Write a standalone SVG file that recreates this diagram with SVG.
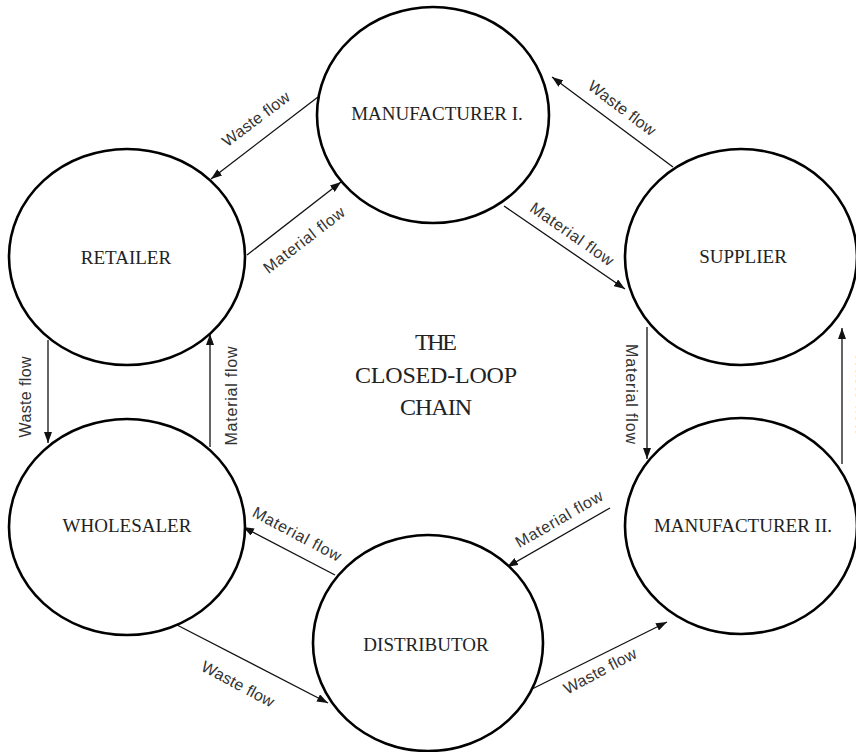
<svg xmlns="http://www.w3.org/2000/svg" width="856" height="752" viewBox="0 0 856 752">
<defs>
<marker id="arr" markerUnits="userSpaceOnUse" markerWidth="11" markerHeight="8" refX="11" refY="4" orient="auto">
<path d="M0,0 L11,4 L0,8 z" fill="#111"/>
</marker>
<style>
.node{fill:#fff;stroke:#000;stroke-width:2.6}
.nl{font-family:"Liberation Serif","DejaVu Serif",serif;font-size:19px;fill:#222;text-anchor:middle}
.title{font-family:"Liberation Serif","DejaVu Serif",serif;font-size:24px;fill:#222;text-anchor:middle}
.cl{font-family:"Liberation Sans",Arial,sans-serif;font-size:16px;fill:#333;text-anchor:middle}
.edge{stroke:#111;stroke-width:1.3;fill:none;marker-end:url(#arr)}
</style>
</defs>
<rect width="856" height="752" fill="#fff"/>

<g id="connectors">
<line class="edge" x1="318" y1="97" x2="211" y2="179"/>
<line class="edge" x1="247" y1="255" x2="341" y2="182"/>
<line class="edge" x1="673" y1="167" x2="552" y2="77"/>
<line class="edge" x1="504" y1="206" x2="625" y2="289"/>
<line class="edge" x1="647" y1="327" x2="647" y2="459"/>
<line class="edge" x1="842" y1="464" x2="842" y2="328"/>
<line class="edge" x1="48" y1="340" x2="48" y2="443"/>
<line class="edge" x1="210" y1="447" x2="210" y2="334"/>
<line class="edge" x1="335" y1="575" x2="243" y2="527"/>
<line class="edge" x1="610" y1="508" x2="507" y2="567"/>
<line class="edge" x1="177" y1="625" x2="328" y2="703"/>
<line class="edge" x1="530" y1="690" x2="667" y2="622"/>

<text class="cl" transform="translate(256,119) rotate(-37)" y="5.5" textLength="80">Waste flow</text>
<text class="cl" transform="translate(304,240) rotate(-37.5)" y="5.5" textLength="98">Material flow</text>
<text class="cl" transform="translate(622,108) rotate(37)" y="5.5" textLength="80">Waste flow</text>
<text class="cl" transform="translate(572,234) rotate(35)" y="5.5" textLength="98">Material flow</text>
<text class="cl" transform="translate(631,394) rotate(90)" y="5.5" textLength="100">Material flow</text>
<text class="cl" transform="translate(861,394) rotate(90)" y="5.5" textLength="82">Waste flow</text>
<text class="cl" transform="translate(25,397) rotate(-90)" y="5.5" textLength="81">Waste flow</text>
<text class="cl" transform="translate(231,396) rotate(-90)" y="5.5" textLength="99">Material flow</text>
<text class="cl" transform="translate(297,534) rotate(28)" y="5.5" textLength="98">Material flow</text>
<text class="cl" transform="translate(559,519) rotate(-30)" y="5.5" textLength="98">Material flow</text>
<text class="cl" transform="translate(238,684) rotate(28)" y="5.5" textLength="80">Waste flow</text>
<text class="cl" transform="translate(600,671) rotate(-28)" y="5.5" textLength="80">Waste flow</text>
</g>

<g id="manufacturer1">
<ellipse class="node" cx="433" cy="115" rx="116" ry="108"/>
<text class="nl" x="437" y="120">MANUFACTURER I.</text>
</g>
<g id="retailer">
<ellipse class="node" cx="127" cy="257" rx="118" ry="108"/>
<text class="nl" x="126" y="264">RETAILER</text>
</g>
<g id="supplier">
<ellipse class="node" cx="741" cy="257" rx="116" ry="108"/>
<text class="nl" x="743" y="263">SUPPLIER</text>
</g>
<g id="manufacturer2">
<ellipse class="node" cx="741" cy="526" rx="116" ry="108"/>
<text class="nl" x="743" y="532">MANUFACTURER II.</text>
</g>
<g id="wholesaler">
<ellipse class="node" cx="127" cy="527" rx="118" ry="108"/>
<text class="nl" x="127" y="532">WHOLESALER</text>
</g>
<g id="distributor">
<ellipse class="node" cx="428" cy="643" rx="115" ry="108"/>
<text class="nl" x="426" y="651">DISTRIBUTOR</text>
</g>

<g id="title">
<text class="title" x="436" y="350" textLength="42">THE</text>
<text class="title" x="436" y="383" textLength="162">CLOSED-LOOP</text>
<text class="title" x="436" y="415" textLength="72">CHAIN</text>
</g>
</svg>
